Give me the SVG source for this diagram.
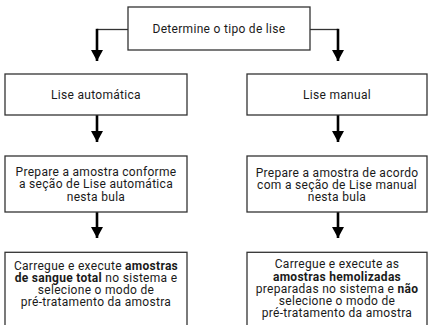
<svg xmlns="http://www.w3.org/2000/svg" width="428" height="325" viewBox="0 0 428 325">
<style>
.box{fill:#fff;stroke:#333;stroke-width:1.3}
.t{font-family:Roboto,"Liberation Sans",sans-serif;font-size:12px;letter-spacing:0.3px;fill:#1a1a1a;text-anchor:middle}
.b{font-weight:bold}
.thin{fill:none;stroke:#333;stroke-width:1.3}
.thick{fill:none;stroke:#000;stroke-width:2.6}
</style>
<defs>
<marker id="ah" markerUnits="userSpaceOnUse" markerWidth="12" markerHeight="12" viewBox="0 0 12 12" refX="11" refY="6" orient="auto">
<path d="M0,0 L11,6 L0,12 z" fill="#000"/>
</marker>
</defs>
<rect width="428" height="325" fill="#fff"/>
<g id="connectors">
<path class="thin" d="M128,29.5 H97"/>
<path class="thick" d="M97,28.8 V61" marker-end="url(#ah)"/>
<path class="thin" d="M310,29.5 H338"/>
<path class="thick" d="M338,28.8 V61" marker-end="url(#ah)"/>
<path class="thick" d="M97,115 V142" marker-end="url(#ah)"/>
<path class="thick" d="M338,115 V142" marker-end="url(#ah)"/>
<path class="thick" d="M97,212 V238" marker-end="url(#ah)"/>
<path class="thick" d="M338,212 V238" marker-end="url(#ah)"/>
</g>
<g id="n-tipo">
<rect class="box" x="128" y="7" width="182" height="43"/>
<text class="t" x="219" y="33">Determine o tipo de lise</text>
</g>
<g id="n-auto">
<rect class="box" x="5" y="74" width="182" height="41"/>
<text class="t" x="96" y="99">Lise automática</text>
</g>
<g id="n-manual">
<rect class="box" x="247" y="74" width="180" height="41"/>
<text class="t" x="337" y="99">Lise manual</text>
</g>
<g id="n-prep-auto">
<rect class="box" x="5" y="156" width="182" height="56"/>
<text class="t" x="96" y="176.3">Prepare a amostra conforme</text>
<text class="t" x="96" y="188.4">a seção de Lise automática</text>
<text class="t" x="96" y="200.5">nesta bula</text>
</g>
<g id="n-prep-manual">
<rect class="box" x="247" y="156" width="180" height="56"/>
<text class="t" x="337" y="176.5">Prepare a amostra de acordo</text>
<text class="t" x="337" y="188.6">com a seção de Lise manual</text>
<text class="t" x="337" y="200.7">nesta bula</text>
</g>
<g id="n-exec-auto">
<rect class="box" x="5" y="252.3" width="182" height="80"/>
<text class="t" x="96" y="270">Carregue e execute <tspan class="b">amostras</tspan></text>
<text class="t" x="96" y="282.1"><tspan class="b">de sangue total</tspan> no sistema e</text>
<text class="t" x="96" y="294.2">selecione o modo de</text>
<text class="t" x="96" y="306.3">pré-tratamento da amostra</text>
</g>
<g id="n-exec-manual">
<rect class="box" x="247" y="252.3" width="180" height="80"/>
<text class="t" x="337" y="268.4">Carregue e execute as</text>
<text class="t b" x="337" y="280.5">amostras hemolizadas</text>
<text class="t" x="337" y="292.6">preparadas no sistema e <tspan class="b">não</tspan></text>
<text class="t" x="337" y="304.7">selecione o modo de</text>
<text class="t" x="337" y="316.8">pré-tratamento da amostra</text>
</g>
</svg>
